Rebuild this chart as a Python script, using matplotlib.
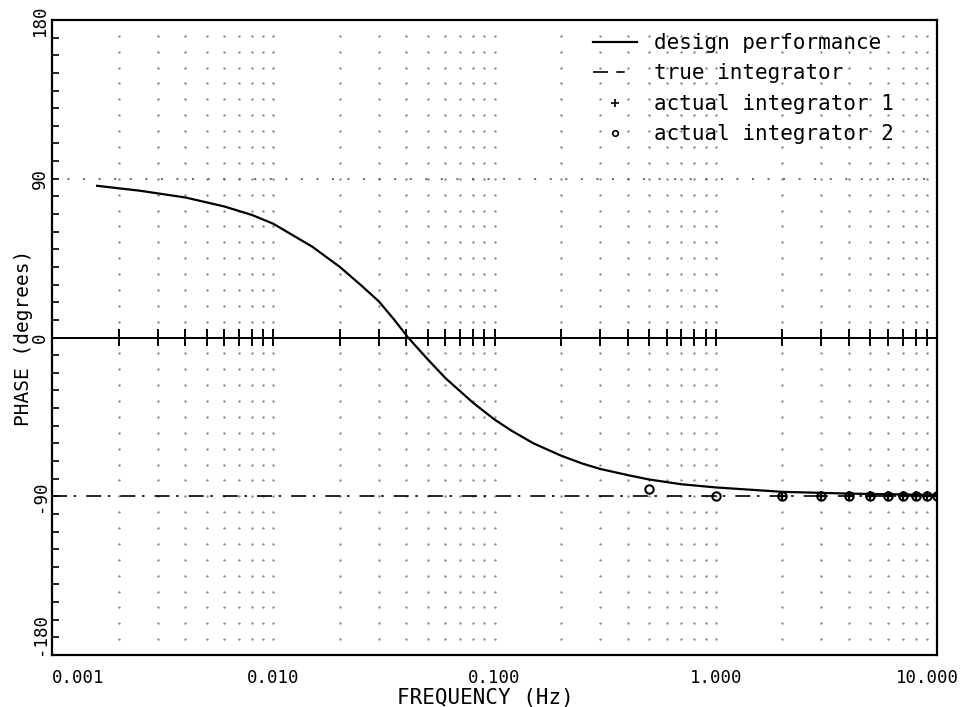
import numpy as np
import matplotlib
matplotlib.use("Agg")
from matplotlib import pyplot as plt
from matplotlib.lines import Line2D
from matplotlib.transforms import ScaledTranslation

plt.rcParams['font.family'] = ['DejaVu Sans Mono', 'DejaVu Sans']

# Data
design_f = [0.0016, 0.0025, 0.004, 0.006, 0.008, 0.010, 0.015, 0.020, 0.025,
            0.030, 0.035, 0.0407, 0.050, 0.060, 0.080, 0.100, 0.120, 0.150,
            0.200, 0.250, 0.300, 0.400, 0.500, 0.700, 1.0, 2.0, 4.0, 10.0]
design_phase = [86.0, 83.2, 79.4, 74.3, 69.5, 64.5, 51.5, 40.0, 29.5,
                20.5, 10.5, 0.0, -12.5, -23.0, -37.0, -46.5, -53.0, -60.0,
                -67.0, -71.5, -74.5, -78.0, -80.5, -83.2, -85.0, -87.5, -88.5, -89.3]

true_f = [0.001, 10.0]
true_phase = [-90, -90]

actual1_f = [2, 3, 4, 5, 6, 7, 8, 9, 10]
actual1_phase = [-90, -90, -90, -90, -90, -90, -90, -90, -90]

actual2_f = [0.5, 1, 2, 3, 4, 5, 6, 7, 8, 9, 10]
actual2_phase = [-86, -90, -90, -90, -90, -90, -90, -90, -90, -90, -90]

x_ticks = [0.001, 0.01, 0.1, 1, 10]
x_ticklabels = ['0.001', '0.010', '0.100', '1.000', '10.000']
y_ticks = [-180, -90, 0, 90, 180]
y_ticklabels = ['-180', '-90', '0', '90', '180']

legend_labels = ['design performance', 'true integrator',
                 'actual integrator 1', 'actual integrator 2']

# grid of dots at the minor decades / every 9 degrees
grid_f = [k * 10.0 ** d for d in range(-3, 1) for k in range(2, 11) if k * 10.0 ** d < 9.99]
grid_rows = np.arange(-171, 172, 9)

fig = plt.figure(figsize=(9.65, 7.07), dpi=100)
ax = fig.add_axes([52 / 965, 1 - 655 / 707, 885 / 965, 635 / 707])
ax.set_xscale('log')
ax.set_xlim(0.001, 10)
ax.set_ylim(-180, 180)

gx, gy = np.meshgrid(grid_f, grid_rows)
ax.scatter(gx.ravel(), gy.ravel(), s=3, c='#8a8a8a', marker='o', linewidths=0, zorder=1)
ax.axhline(90, ls=(0, (1, 7)), color='#666666', lw=1.4, zorder=1)

# zero line with its small vertical marks
ax.axhline(0, color='k', lw=1.4, zorder=2)
ax.vlines(grid_f, -5, 5, color='k', lw=1.4, zorder=2)

dashdot = (0, (9, 4, 1.5, 6))
ax.plot(design_f, design_phase, color='k', lw=1.6, zorder=3)
ax.plot(true_f, true_phase, color='k', lw=1.2, ls=dashdot, zorder=3)
ax.plot(actual1_f, actual1_phase, ls='none', marker='+', ms=7, mew=1.6, color='k', zorder=4)
ax.plot(actual2_f, actual2_phase, ls='none', marker='o', ms=6, mew=1.5,
        mfc='none', mec='k', zorder=4)

# axes decoration
for s in ax.spines.values():
    s.set_linewidth(1.6)
ax.set_xticks(x_ticks)
ax.set_xticklabels(x_ticklabels, fontsize=12.5)
ax.xaxis.set_minor_locator(matplotlib.ticker.NullLocator())
ax.tick_params(axis='x', length=0, pad=10)
ax.set_yticks(y_ticks)
ax.set_yticklabels(y_ticklabels, fontsize=12.5)
ax.set_yticks(np.arange(-170, 180, 10), minor=True)
ax.tick_params(axis='y', which='both', direction='in', length=5, width=1.2,
               labelrotation=90, pad=2)

xl = ax.get_xticklabels()
xl[0].set_horizontalalignment('left')
xl[-1].set_transform(xl[-1].get_transform() + ScaledTranslation(-10 / 100, 0, fig.dpi_scale_trans))
yl = ax.get_yticklabels()
for lab in yl:
    lab.set_verticalalignment('center')
yl[0].set_verticalalignment('bottom')

ax.set_xlabel('FREQUENCY (Hz)', fontsize=15)
ax.xaxis.set_label_coords(0.49, -0.052)
ax.set_ylabel('PHASE (degrees)', fontsize=14)
ax.yaxis.set_label_coords(-0.022, 0.5)

handles = [
    Line2D([], [], color='k', lw=1.6),
    Line2D([], [], color='k', lw=1.2, ls=(0, (9, 5, 5, 10))),
    Line2D([], [], ls='none', marker='+', ms=6, mew=1.2, color='k'),
    Line2D([], [], ls='none', marker='o', ms=4, mew=1.2, mfc='none', mec='k'),
]
leg = ax.legend(handles, legend_labels, loc='upper left',
                bbox_to_anchor=(593 / 965, 1 - 33 / 707), bbox_transform=fig.transFigure,
                frameon=False, fontsize=15, handlelength=2.1, handletextpad=0.85,
                labelspacing=0.5, borderpad=0, borderaxespad=0)

fig.savefig('out.png', dpi=100, facecolor='white')
